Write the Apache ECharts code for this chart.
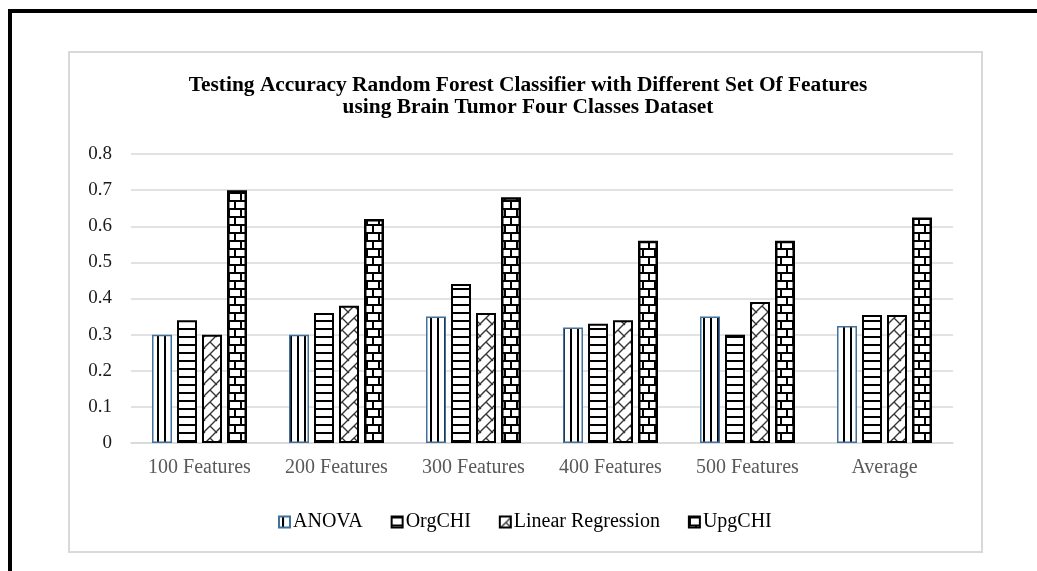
<!DOCTYPE html>
<html>
<head>
<meta charset="utf-8">
<script src="https://cdn.jsdelivr.net/npm/echarts@6/dist/echarts.min.js"></script>
<style>
  html, body { margin: 0; padding: 0; background: #fff; }
  #chart { width: 1037px; height: 571px; }
</style>
</head>
<body>
<div id="chart"></div>
<script>
// Feature-set groups along the x axis
const categories = ['100 Features', '200 Features', '300 Features', '400 Features', '500 Features', 'Average'];
// Testing accuracy of the random forest classifier per selection method
const anova = [0.30, 0.30, 0.35, 0.32, 0.35, 0.324];
const orgChi = [0.34, 0.36, 0.44, 0.33, 0.30, 0.354];
const linearRegression = [0.30, 0.38, 0.36, 0.34, 0.39, 0.354];
const upgChi = [0.70, 0.62, 0.68, 0.56, 0.56, 0.624];
const yTicks = [0, 0.1, 0.2, 0.3, 0.4, 0.5, 0.6, 0.7, 0.8];

const FONT = '"Liberation Serif", "Times New Roman", serif';

// Small repeating canvas tiles used as hatch fills for the bars
function tile(w, h, draw) {
  const c = document.createElement('canvas');
  c.width = w; c.height = h;
  const ctx = c.getContext('2d');
  ctx.fillStyle = '#ffffff';
  ctx.fillRect(0, 0, w, h);
  draw(ctx, w, h);
  return c;
}

// vertical lines
const vLines = tile(7, 4, (ctx) => {
  ctx.fillStyle = '#000';
  ctx.fillRect(3, 0, 2, 4);
});
// horizontal lines
const hLines = tile(4, 8, (ctx) => {
  ctx.fillStyle = '#000';
  ctx.fillRect(0, 0, 4, 2);
});
// upward diagonal brick
const diagBrick = tile(12, 12, (ctx, w, h) => {
  ctx.strokeStyle = '#333';
  ctx.lineWidth = 1.4;
  ctx.beginPath();
  ctx.moveTo(-1, h + 1); ctx.lineTo(w + 1, -1);
  ctx.moveTo(w / 2, h / 2); ctx.lineTo(w + 1, h + 1);
  ctx.moveTo(-1, -1); ctx.lineTo(1, 1);
  ctx.stroke();
});
// horizontal brick
const brick = tile(12, 16, (ctx) => {
  ctx.fillStyle = '#000';
  ctx.fillRect(0, 0, 12, 2);
  ctx.fillRect(0, 8, 12, 2);
  ctx.fillRect(0, 0, 2, 8);
  ctx.fillRect(6, 8, 2, 8);
});

function pattern(img) { return { image: img, repeat: 'repeat' }; }

function barSeries(name, data, img, border, bw) {
  return {
    name: name,
    type: 'bar',
    data: data,
    barWidth: 20,
    barGap: '25%',
    itemStyle: { color: pattern(img), borderColor: border, borderWidth: bw },
    emphasis: { disabled: true }
  };
}

const chart = echarts.init(document.getElementById('chart'), null, { renderer: 'canvas' });

const titleFont = 'bold 20px ' + FONT;

chart.setOption({
  backgroundColor: '#ffffff',
  animation: false,
  grid: { left: 131, right: 84, top: 154, bottom: 128, containLabel: false },
  xAxis: {
    type: 'category',
    data: categories,
    axisLine: { show: true, lineStyle: { color: '#d9d9d9', width: 1.5 } },
    axisTick: { show: false },
    axisLabel: { color: '#595959', fontFamily: FONT, fontSize: 20, margin: 15 }
  },
  yAxis: {
    type: 'value',
    min: yTicks[0],
    max: yTicks[yTicks.length - 1],
    interval: 0.1,
    axisLine: { show: false },
    axisTick: { show: false },
    splitLine: { lineStyle: { color: '#d9d9d9', width: 1.5 } },
    axisLabel: {
      color: '#1a1a1a', fontFamily: FONT, fontSize: 19, margin: 19,
      formatter: (v) => String(Math.round(v * 10) / 10)
    }
  },
  legend: {
    left: 273,
    top: 507,
    icon: 'rect',
    itemWidth: 11,
    itemHeight: 11,
    itemGap: 28,
    textStyle: { color: '#000', fontFamily: FONT, fontSize: 20, padding: [0, 0, 0, -2] },
    data: ['ANOVA', 'OrgCHI', 'Linear Regression', 'UpgCHI']
  },
  graphic: [
    // outer frame (left and top edges)
    { type: 'rect', shape: { x: 8, y: 9, width: 4, height: 570 }, style: { fill: '#000' }, silent: true },
    { type: 'rect', shape: { x: 8, y: 9, width: 1040, height: 4 }, style: { fill: '#000' }, silent: true },
    // chart area border
    { type: 'rect', shape: { x: 69, y: 52, width: 913, height: 500 },
      style: { fill: 'none', stroke: '#d9d9d9', lineWidth: 2 }, silent: true, z: -1 },
    // two-line title
    { type: 'text', x: 528, y: 86, scaleX: 1.07, silent: true,
      style: { text: 'Testing Accuracy Random Forest Classifier with Different Set Of Features',
        fill: '#000', font: titleFont, textAlign: 'center', textVerticalAlign: 'middle' } },
    { type: 'text', x: 528, y: 108, scaleX: 1.07, silent: true,
      style: { text: 'using Brain Tumor Four Classes Dataset',
        fill: '#000', font: titleFont, textAlign: 'center', textVerticalAlign: 'middle' } }
  ],
  series: [
    barSeries('ANOVA', anova, vLines, '#41719c', 1.5),
    barSeries('OrgCHI', orgChi, hLines, '#000', 2),
    barSeries('Linear Regression', linearRegression, diagBrick, '#000', 2),
    barSeries('UpgCHI', upgChi, brick, '#000', 2.5)
  ]
});
</script>
</body>
</html>
